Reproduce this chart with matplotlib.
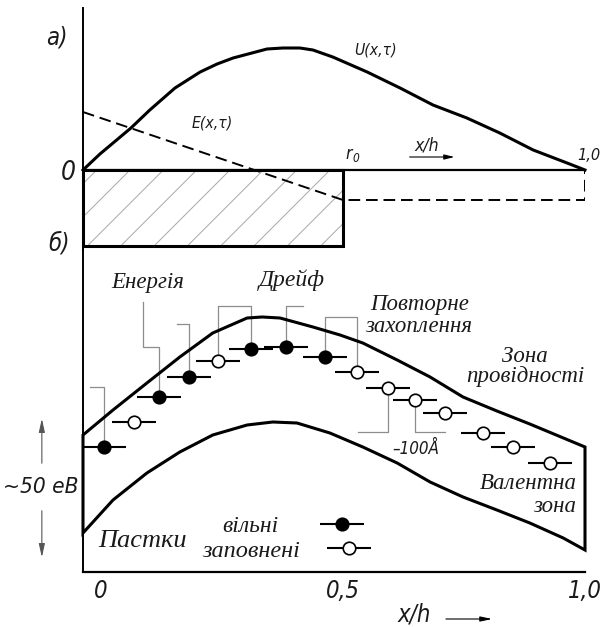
import matplotlib
matplotlib.use('Agg')
import matplotlib.pyplot as plt
from matplotlib.patches import Rectangle, Polygon

# ---------------- data ----------------
# panel a): potential U(x,t) and field E(x,t) along x/h
u_x = [-0.037, -0.002, 0.062, 0.101, 0.153, 0.205, 0.240, 0.273, 0.343, 0.376, 0.411,
       0.438, 0.479, 0.550, 0.618, 0.686, 0.756, 0.824, 0.893, 0.963, 1.0]
u_y = [0.0, 0.16, 0.42, 0.60, 0.82, 0.98, 1.06, 1.12, 1.21, 1.22, 1.22,
       1.20, 1.13, 0.98, 0.82, 0.65, 0.52, 0.37, 0.20, 0.07, 0.0]
e_x = [-0.037, 0.5, 1.0, 1.0]
e_y = [0.58, -0.30, -0.30, 0.0]
x_left = -0.037
r0 = 0.5
slab_bottom = -0.76

# panel б): band edges
cb_x = [-0.037, 0.025, 0.095, 0.163, 0.231, 0.302, 0.333, 0.370, 0.438, 0.494,
        0.541, 0.612, 0.680, 0.748, 0.818, 0.886, 1.0]
cb_y = [1.37, 1.62, 1.89, 2.15, 2.39, 2.54, 2.55, 2.54, 2.45, 2.37,
        2.29, 2.12, 1.95, 1.75, 1.61, 1.48, 1.25]
vb_x = [-0.037, 0.025, 0.095, 0.163, 0.231, 0.302, 0.355, 0.405, 0.473, 0.541,
        0.612, 0.680, 0.748, 0.818, 0.886, 0.955, 1.0]
vb_y = [0.39, 0.72, 0.99, 1.20, 1.37, 1.47, 1.50, 1.49, 1.39, 1.25,
        1.09, 0.90, 0.75, 0.62, 0.49, 0.34, 0.22]

# traps: position, energy, filled?
trap_x = [0.006, 0.068, 0.120, 0.182, 0.242, 0.310, 0.382, 0.463,
          0.529, 0.593, 0.649, 0.711, 0.789, 0.851, 0.928]
trap_y = [1.25, 1.50, 1.75, 1.95, 2.11, 2.23, 2.25, 2.15,
          2.00, 1.84, 1.72, 1.59, 1.39, 1.25, 1.09]
trap_filled = [True, False, True, True, False, True, True, True,
               False, False, False, False, False, False, False]

# legend traps
leg_x = [0.498, 0.512]
leg_y = [0.48, 0.24]
leg_filled = [True, False]

# grey connectors (step paths)
conn_paths = [
    ([-0.023, 0.006, 0.006], [1.85, 1.85, 1.25]),
    ([0.087, 0.087, 0.120, 0.120], [2.70, 2.25, 2.25, 1.75]),
    ([0.157, 0.182, 0.182], [2.48, 2.48, 1.95]),
    ([0.242, 0.242, 0.310, 0.310], [2.11, 2.66, 2.66, 2.23]),
    ([0.382, 0.382, 0.417], [2.25, 2.66, 2.66]),
    ([0.463, 0.463, 0.529, 0.529], [2.15, 2.55, 2.55, 2.00]),
    ([0.593, 0.593, 0.531], [1.84, 1.40, 1.40]),
    ([0.649, 0.649, 0.711], [1.72, 1.40, 1.40]),
]

tick_pos = [0.0, 0.5, 1.0]
tick_lab = ['0', '0,5', '1,0']

GOST = 'DejaVu Sans'          # condensed oblique used for the drafting-style labels
SERIF = 'Liberation Serif'
sc = 0.9
TXT = '#1a1a1a'
GRAY = '#8c8c8c'

plt.rcParams['hatch.linewidth'] = 0.7

fig = plt.figure(figsize=(6.05, 6.27), dpi=100)
W, H = 605, 627
xl, xr = 83, 585

# ---------------- top panel ----------------
axa = fig.add_axes([xl / W, (H - 250) / H, (xr - xl) / W, 242 / H])
axa.set_xlim(x_left, 1.0)
axa.set_ylim(-0.80, 1.62)
for s in ['top', 'right', 'bottom']:
    axa.spines[s].set_visible(False)
axa.spines['left'].set_linewidth(1.4)
axa.set_xticks([]); axa.set_yticks([])
axa.patch.set_alpha(0)

axa.add_patch(Rectangle((x_left, slab_bottom), r0 - x_left, -slab_bottom,
                        facecolor='none', edgecolor='#a8a8a8', hatch='/', lw=0, zorder=1))
axa.add_patch(Rectangle((x_left, slab_bottom), r0 - x_left, -slab_bottom,
                        facecolor='none', edgecolor='black', lw=2.2, zorder=3, clip_on=False))
axa.plot([x_left, 1.0], [0, 0], color='black', lw=1.6, zorder=3)
axa.plot(u_x, u_y, color='black', lw=2.2, zorder=4, clip_on=False)
axa.plot(e_x, e_y, color='black', lw=1.4, ls=(0, (6, 3)), zorder=4)

kw_g = dict(family=GOST, style='oblique', stretch='condensed', color=TXT,
            ha='center', va='center', clip_on=False)
axa.text(-0.091, 1.32, 'а)', fontsize=19 * sc, **kw_g)
axa.text(-0.068, -0.03, '0', fontsize=21 * sc, **kw_g)
axa.text(-0.087, -0.73, 'б)', fontsize=19 * sc, **kw_g)
axa.text(0.568, 1.20, 'U(x,τ)', fontsize=12.5 * sc, **kw_g)
axa.text(0.231, 0.47, 'E(x,τ)', fontsize=12.5 * sc, **kw_g)
axa.text(0.512, 0.16, 'r', fontsize=14 * sc, **kw_g)
axa.text(0.527, 0.12, '0', fontsize=9.5 * sc, **kw_g)
axa.text(0.674, 0.24, 'x/h', fontsize=14 * sc, **kw_g)
axa.text(0.985, 0.15, '1,0', fontsize=13 * sc, **dict(kw_g, ha='left'))
axa.annotate('', xy=(0.736, 0.13), xytext=(0.632, 0.13),
             arrowprops=dict(arrowstyle='-|>,head_length=0.6,head_width=0.15',
                             color='black', lw=0.8))

# ---------------- bottom panel ----------------
axb = fig.add_axes([xl / W, (H - 572) / H, (xr - xl) / W, 322 / H])
axb.set_xlim(x_left, 1.0)
axb.set_ylim(0, 3.22)
for s in ['top', 'right']:
    axb.spines[s].set_visible(False)
axb.spines['left'].set_linewidth(1.4)
axb.spines['bottom'].set_linewidth(1.6)
axb.patch.set_alpha(0)
axb.set_yticks([])
axb.set_xticks(tick_pos)
axb.set_xticklabels(tick_lab, family=GOST, style='oblique', stretch='condensed',
                    fontsize=19 * sc, color=TXT)
axb.tick_params(axis='x', which='major', length=0, pad=5)
axb.set_xticks([0.5], minor=True)
axb.tick_params(axis='x', which='minor', direction='in', length=8, width=1.4)

band_pts = list(zip(cb_x, cb_y)) + list(zip(vb_x[::-1], vb_y[::-1]))
axb.add_patch(Polygon(band_pts, closed=True, facecolor='none', edgecolor='black',
                      lw=2.2, joinstyle='miter', clip_on=False, zorder=3))

for px, py in conn_paths:
    axb.plot(px, py, color=GRAY, lw=0.9, zorder=2)

h = 0.045
for x, y, f in zip(trap_x + leg_x, trap_y + leg_y, trap_filled + leg_filled):
    axb.plot([x - h, x + h], [y, y], color='black', lw=1.5, solid_capstyle='butt', zorder=4)
    axb.plot(x, y, 'o', ms=9, mfc='black' if f else 'white', mec='black', mew=1.2, zorder=5)

kw_s = dict(family=SERIF, style='italic', color=TXT, va='baseline', clip_on=False)
axb.text(0.097, 2.84, 'Енергія', fontsize=16.5, ha='center', **kw_s)
axb.text(0.395, 2.86, 'Дрейф', fontsize=17, ha='center', **kw_s)
axb.text(0.659, 2.62, 'Повторне', fontsize=16.5, ha='center', **kw_s)
axb.text(0.657, 2.40, 'захоплення', fontsize=16.5, ha='center', **kw_s)
axb.text(0.876, 2.10, 'Зона', fontsize=16.5, ha='center', **kw_s)
axb.text(0.876, 1.90, 'провідності', fontsize=16.5, ha='center', **kw_s)
axb.text(0.983, 0.83, 'Валентна', fontsize=16.5, ha='right', **kw_s)
axb.text(0.983, 0.60, 'зона', fontsize=16.5, ha='right', **kw_s)
axb.text(0.085, 0.25, 'Пастки', fontsize=19, ha='center', **kw_s)
axb.text(0.308, 0.40, 'вільні', fontsize=17, ha='center', **kw_s)
axb.text(0.310, 0.15, 'заповнені', fontsize=17.5, ha='center', **kw_s)

axb.text(0.651, 1.23, '–100Å', fontsize=13.5 * sc, **kw_g)
axb.text(-0.124, 0.85, '~50 еВ', fontsize=18 * sc, **kw_g)
axb.text(0.647, -0.43, 'x/h', fontsize=19 * sc, **kw_g)

arr = dict(arrowstyle='-|>,head_length=0.8,head_width=0.18', color='#555555', lw=0.8)
axb.annotate('', xy=(-0.122, 1.56), xytext=(-0.122, 1.06), arrowprops=arr,
             annotation_clip=False)
axb.annotate('', xy=(-0.122, 0.12), xytext=(-0.122, 0.64), arrowprops=arr,
             annotation_clip=False)
axb.annotate('', xy=(0.814, -0.47), xytext=(0.707, -0.47),
             arrowprops=dict(arrowstyle='-|>,head_length=0.7,head_width=0.15',
                             color='black', lw=0.8), annotation_clip=False)

fig.savefig('out.png', dpi=100)
